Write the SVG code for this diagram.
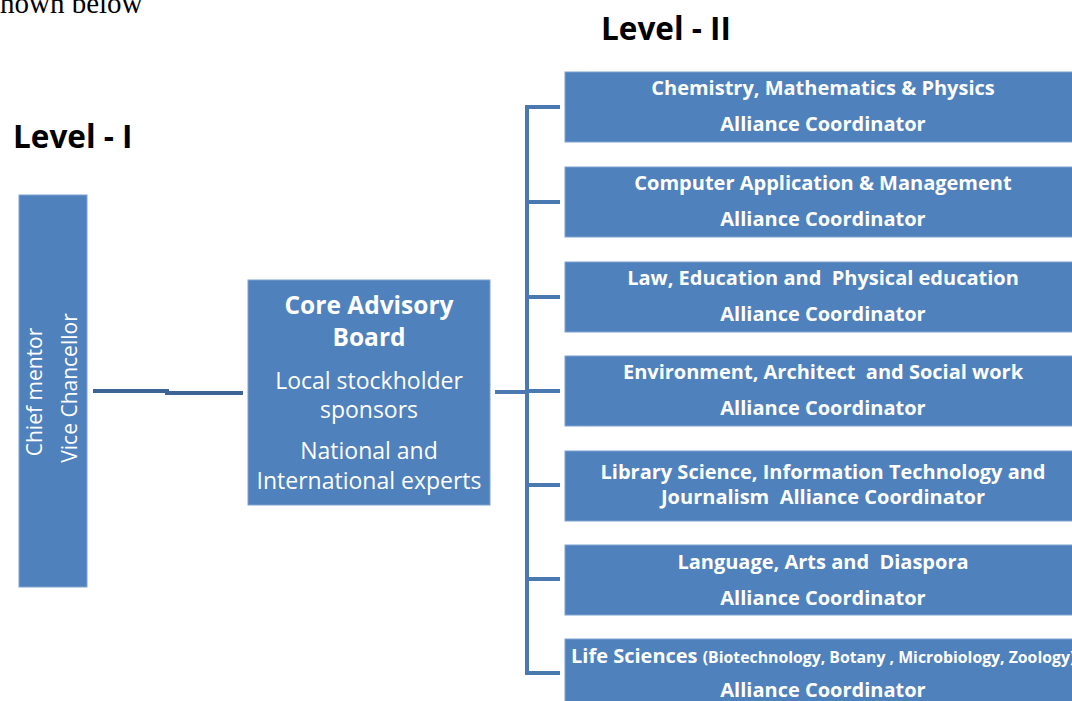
<svg xmlns="http://www.w3.org/2000/svg" width="1072" height="701" viewBox="0 0 1072 701">
<style>
.box{fill:#4f81bd;stroke:#7ea2cf;stroke-width:1}
.t{font-family:"Open Sans",Lato,sans-serif;fill:#ffffff;text-anchor:middle;white-space:pre}
.b{font-weight:bold}
.rt{font-size:20px;font-weight:bold}
.lvl{font-family:"Open Sans",Lato,sans-serif;font-weight:bold;font-size:31.5px;fill:#000}
.conn{stroke:#4a78b0;stroke-width:4;fill:none}
.conn2{stroke:#3c6495;stroke-width:4;fill:none}
</style>
<rect width="1072" height="701" fill="#ffffff"/>
<text x="0" y="13" font-family="Liberation Serif,serif" font-size="29" fill="#000">hown below</text>
<text class="lvl" x="13" y="148">Level - I</text>
<text class="lvl" x="601" y="40">Level - II</text>

<g id="connectors">
<path class="conn2" d="M93 391 H167 V393 H243"/>
<path class="conn" d="M495 392 H527"/>
<path class="conn" d="M527 107 V675"/>
<path class="conn" d="M525 107 H560 M525 202 H560 M525 297 H560 M525 391 H560 M525 485 H560 M525 579 H560 M525 673 H560"/>
</g>

<g id="chief">
<rect class="box" x="19" y="195" width="68" height="392"/>
<text class="t" font-size="21" transform="translate(42 392) rotate(-90)">Chief mentor</text>
<text class="t" font-size="21" transform="translate(77 388) rotate(-90)">Vice Chancellor</text>
</g>

<g id="core">
<rect class="box" x="248" y="280" width="242" height="225"/>
<text class="t b" font-size="24.5" x="369" y="314">Core Advisory</text>
<text class="t b" font-size="24.5" x="369" y="346">Board</text>
<text class="t" font-size="23" x="369" y="389">Local stockholder</text>
<text class="t" font-size="23" x="369" y="418">sponsors</text>
<text class="t" font-size="23" x="369" y="459">National and</text>
<text class="t" font-size="23" x="369" y="489">International experts</text>
</g>

<g id="n1">
<rect class="box" x="565" y="72" width="520" height="70"/>
<text class="t rt" x="823" y="95">Chemistry, Mathematics &amp; Physics</text>
<text class="t rt" x="823" y="131">Alliance Coordinator</text>
</g>
<g id="n2">
<rect class="box" x="565" y="167" width="520" height="70"/>
<text class="t rt" x="823" y="190">Computer Application &amp; Management</text>
<text class="t rt" x="823" y="226">Alliance Coordinator</text>
</g>
<g id="n3">
<rect class="box" x="565" y="262" width="520" height="70"/>
<text class="t rt" x="823" y="285">Law, Education and  Physical education</text>
<text class="t rt" x="823" y="321">Alliance Coordinator</text>
</g>
<g id="n4">
<rect class="box" x="565" y="356" width="520" height="70"/>
<text class="t rt" x="823" y="379">Environment, Architect  and Social work</text>
<text class="t rt" x="823" y="415">Alliance Coordinator</text>
</g>
<g id="n5">
<rect class="box" x="565" y="451" width="520" height="70"/>
<text class="t rt" x="823" y="479">Library Science, Information Technology and</text>
<text class="t rt" x="823" y="504">Journalism  Alliance Coordinator</text>
</g>
<g id="n6">
<rect class="box" x="565" y="545" width="520" height="70"/>
<text class="t rt" x="823" y="569">Language, Arts and  Diaspora</text>
<text class="t rt" x="823" y="605">Alliance Coordinator</text>
</g>
<g id="n7">
<rect class="box" x="565" y="639" width="520" height="80"/>
<text class="t rt" x="571" y="663" style="text-anchor:start"><tspan font-size="20">Life Sciences </tspan><tspan font-size="15.8">(Biotechnology, Botany , Microbiology, Zoology)</tspan></text>
<text class="t rt" x="823" y="697">Alliance Coordinator</text>
</g>
</svg>
